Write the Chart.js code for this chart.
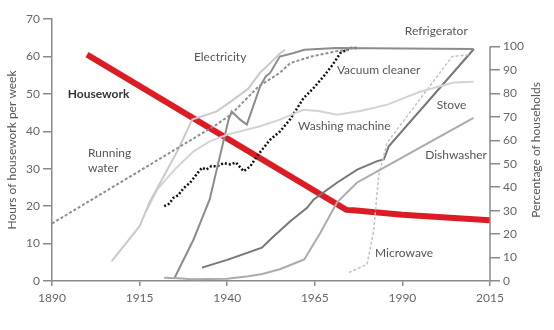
<!DOCTYPE html>
<html lang="en">
<head>
  <meta charset="UTF-8">
  <title>Housework and household appliances</title>
  <script src="https://cdn.jsdelivr.net/npm/chart.js"></script>
  <style>
    body {
      margin: 0;
      padding: 0;
      background: #fff;
      font-family: 'Lato', 'Open Sans', sans-serif;
    }
    .chart-container {
      position: relative;
      width: 554px;
      height: 330px;
    }
  </style>
</head>
<body>
  <div class="chart-container">
    <canvas id="houseChart"></canvas>
  </div>

  <script>
    // x ticks
    const yearTicks = [1890, 1915, 1940, 1965, 1990, 2015];

    // hours of housework per week (left axis)
    const houseworkYears = [1900, 1974, 1976, 1990, 2015];
    const houseworkHours = [60.5, 19.0, 18.9, 17.7, 16.2];

    // percentage of households (right axis)
    const runningWaterYears = [1890, 1937, 1941, 1949, 1955, 1958, 1964, 1971, 1975];
    const runningWaterPct = [24.5, 66.7, 70.9, 83, 88.7, 92.9, 95.7, 97.9, 98.6];

    const electricityYears = [1907, 1915, 1918, 1922, 1926, 1930, 1937, 1941, 1946, 1949.5, 1952.5, 1955, 1956.5];
    const electricityPct = [8.4, 23.4, 34, 45, 56, 68.8, 72.3, 76.5, 82, 89, 93.2, 97, 98.6];

    const refrigeratorYears = [1925, 1930.4, 1935, 1940.4, 1941.3, 1943.7, 1945.6, 1949.4, 1951, 1952.3, 1955, 1959, 1962, 1971, 2010.3];
    const refrigeratorPct = [1.4, 17.7, 34.8, 68.8, 72.3, 68.8, 66.7, 83, 87.2, 88.8, 95.7, 97.2, 98.6, 99.3, 98.9];

    const vacuumYears = [1922, 1923.5, 1924.7, 1926, 1927.5, 1929.4, 1931, 1932.8, 1934, 1935.5, 1937.1, 1939, 1940.9, 1942.5, 1944.7, 1946.6, 1948.5, 1950.5, 1952.3, 1955.1, 1958, 1961.8, 1964.5, 1967.5, 1970, 1972.3, 1975.1, 1977.1];
    const vacuumPct = [31.9, 33, 35.5, 36.5, 39.5, 41.9, 45, 48.3, 47.5, 49, 48.9, 50.3, 49.7, 50.5, 46.8, 48.9, 53.2, 57, 60.3, 63.8, 69, 78, 82, 87.2, 92, 97.2, 99.3, 99.3];

    const washingYears = [1917, 1920, 1925, 1930.4, 1935, 1940, 1949.4, 1955, 1961.7, 1966, 1971.4, 1978, 1985.7, 1995, 2004.6, 2010.3];
    const washingPct = [30, 39, 47.5, 55.3, 59.5, 62.4, 66, 68.8, 73, 72.5, 70.9, 72.5, 75.2, 80.7, 84.6, 85];

    const stoveYears = [1932.8, 1940, 1949.9, 1952.3, 1958, 1962.8, 1964.7, 1971.3, 1977.1, 1982.8, 1984.7, 1986.1, 2010.4];
    const stovePct = [5.7, 9, 14.2, 17.7, 25.5, 31.2, 34.8, 41.9, 47.5, 51.1, 51.8, 57.4, 98.9];

    const dishwasherYears = [1922, 1926, 1930, 1935, 1940, 1946, 1950, 1955, 1960, 1962, 1966.6, 1971.3, 1977, 1983.7, 2010.3];
    const dishwasherPct = [1.4, 1.2, 0.7, 0.9, 1, 2, 3, 5, 8, 9.2, 20.6, 33.4, 41.9, 47.5, 69.5];

    const microwaveYears = [1974.7, 1979.9, 1981.8, 1983.2, 1985.6, 2004.2, 2009.4];
    const microwavePct = [3.6, 7.1, 21.3, 44.7, 58.9, 95.7, 96.5];

    function pts(xs, ys) {
      return xs.map(function(x, i) { return { x: x, y: ys[i] }; });
    }

    function line(label, xs, ys, color, width, dash, axis) {
      return {
        label: label,
        data: pts(xs, ys),
        borderColor: color,
        borderWidth: width,
        borderDash: dash || [],
        yAxisID: axis || 'y2',
        pointRadius: 0,
        tension: 0,
        fill: false
      };
    }

    const axisColor = '#8a8a8a';
    const textColor = '#555';

    // text labels placed in data coordinates (year, percentage)
    const notes = [
      { text: 'Electricity', x: 1930.5, y: 95.6 },
      { text: 'Housework', x: 1894.5, y: 79.8, bold: true },
      { text: 'Running', x: 1900.3, y: 54.6 },
      { text: 'water', x: 1900.3, y: 48.2 },
      { text: 'Refrigerator', x: 1990.7, y: 106.5 },
      { text: 'Vacuum cleaner', x: 1971.3, y: 89.9 },
      { text: 'Washing machine', x: 1960.2, y: 66 },
      { text: 'Stove', x: 1999.8, y: 74.8 },
      { text: 'Dishwasher', x: 1996.5, y: 53.5 },
      { text: 'Microwave', x: 1982.2, y: 12 }
    ];

    const decorPlugin = {
      id: 'decor',
      afterDraw: function(chart) {
        const ctx = chart.ctx;
        const xs = chart.scales.x;
        const y2 = chart.scales.y2;
        const area = chart.chartArea;
        ctx.save();
        // right axis line only from 0 to 100
        ctx.strokeStyle = axisColor;
        ctx.lineWidth = 1.5;
        ctx.beginPath();
        ctx.moveTo(area.right, y2.getPixelForValue(0));
        ctx.lineTo(area.right, y2.getPixelForValue(100));
        ctx.stroke();

        ctx.textBaseline = 'middle';
        ctx.textAlign = 'left';
        notes.forEach(function(n) {
          ctx.font = (n.bold ? 'bold ' : '') + '12px Lato, "Open Sans", sans-serif';
          ctx.fillStyle = n.bold ? '#333' : textColor;
          ctx.fillText(n.text, xs.getPixelForValue(n.x), y2.getPixelForValue(n.y));
        });

        // axis titles
        const midY = (area.top + area.bottom) / 2;
        ctx.font = '12px Lato, "Open Sans", sans-serif';
        ctx.fillStyle = textColor;
        ctx.textAlign = 'center';
        ctx.translate(12, midY);
        ctx.rotate(-Math.PI / 2);
        ctx.fillText('Hours of housework per week', 0, 0);
        ctx.setTransform(1, 0, 0, 1, 0, 0);
        ctx.translate(536, midY);
        ctx.rotate(-Math.PI / 2);
        ctx.fillText('Percentage of households', 0, 0);
        ctx.restore();
      }
    };

    const tickFont = { family: 'Lato, "Open Sans", sans-serif', size: 12 };

    new Chart(document.getElementById('houseChart').getContext('2d'), {
      type: 'line',
      data: {
        datasets: [
          line('Running water', runningWaterYears, runningWaterPct, '#8e8e8e', 2, [3, 2]),
          line('Electricity', electricityYears, electricityPct, '#c9c9c9', 2),
          line('Washing machine', washingYears, washingPct, '#d3d3d3', 2),
          line('Dishwasher', dishwasherYears, dishwasherPct, '#ababab', 2),
          line('Microwave', microwaveYears, microwavePct, '#c2c2c2', 1.5, [3, 2]),
          line('Refrigerator', refrigeratorYears, refrigeratorPct, '#8c8c8c', 2),
          line('Stove', stoveYears, stovePct, '#767676', 2),
          line('Vacuum cleaner', vacuumYears, vacuumPct, '#111', 2.5, [2, 2]),
          line('Housework', houseworkYears, houseworkHours, '#dc1c24', 6, null, 'y')
        ]
      },
      options: {
        responsive: true,
        maintainAspectRatio: false,
        animation: false,
        layout: { padding: { top: 19, left: 0, right: 0, bottom: 0 } },
        plugins: {
          legend: { display: false },
          tooltip: { enabled: false }
        },
        scales: {
          x: {
            type: 'linear',
            min: 1890,
            max: 2015,
            afterBuildTicks: function(scale) {
              scale.ticks = yearTicks.map(function(v) { return { value: v }; });
            },
            afterFit: function(scale) { scale.height = 49; },
            ticks: {
              color: '#666',
              font: tickFont,
              padding: 5,
              maxRotation: 0,
              callback: function(v) { return String(v); }
            },
            grid: { drawOnChartArea: false, tickLength: 5, color: axisColor, lineWidth: 1.5 },
            border: { color: axisColor, width: 1.5 }
          },
          y: {
            position: 'left',
            min: 0,
            max: 70,
            afterFit: function(scale) { scale.width = 52; },
            ticks: { stepSize: 10, color: '#666', font: tickFont, padding: 3 },
            grid: { drawOnChartArea: false, tickLength: 9, color: axisColor, lineWidth: 1.5 },
            border: { color: axisColor, width: 1.5 }
          },
          y2: {
            position: 'right',
            min: 0,
            max: 111.7,
            afterBuildTicks: function(scale) {
              scale.ticks = scale.ticks.filter(function(t) { return t.value <= 100; });
            },
            afterFit: function(scale) { scale.width = 64; },
            ticks: { stepSize: 10, color: '#666', font: tickFont, padding: 3 },
            grid: { drawOnChartArea: false, tickLength: 10, color: axisColor, lineWidth: 1.5 },
            border: { display: false }
          }
        }
      },
      plugins: [decorPlugin]
    });
  </script>
</body>
</html>
